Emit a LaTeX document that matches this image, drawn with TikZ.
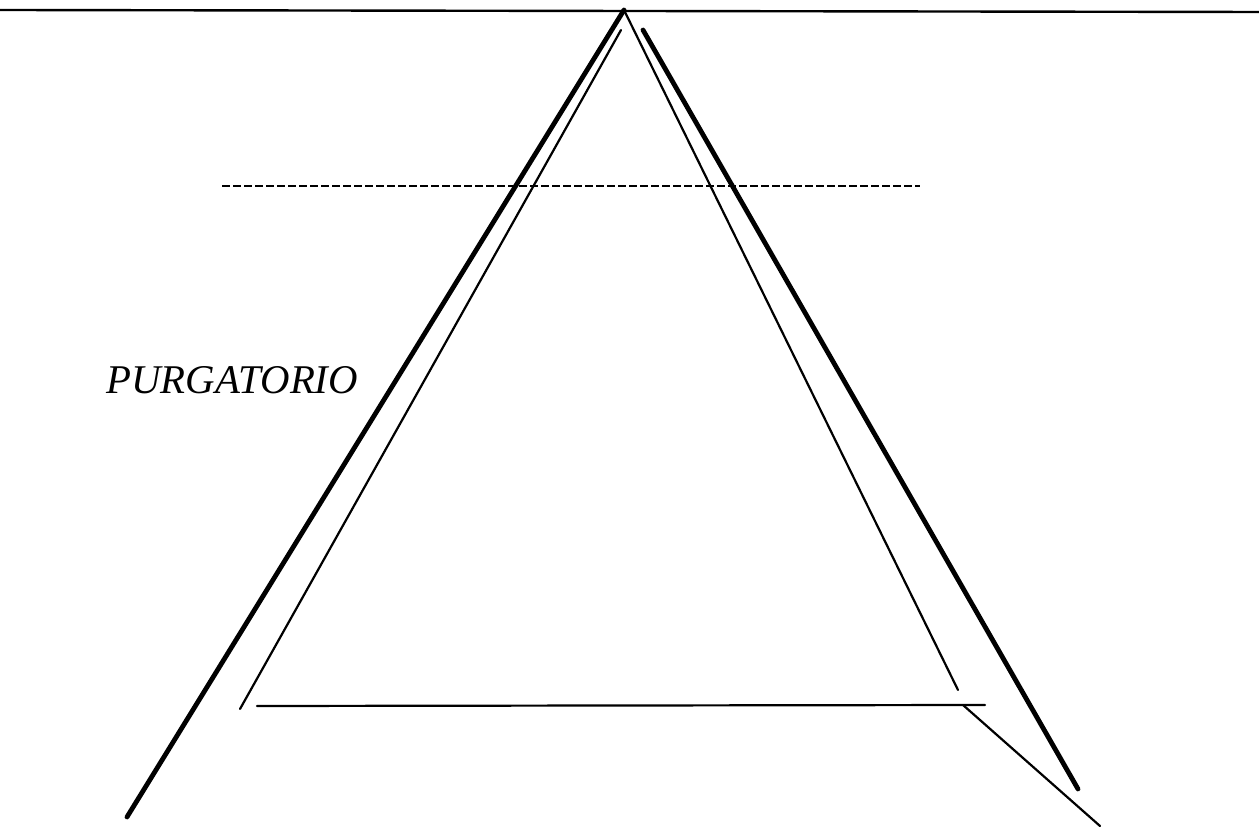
\documentclass[tikz,border=0pt]{standalone}
\usepackage{fontspec}
\setmainfont{Liberation Serif}
\usetikzlibrary{positioning}

\begin{document}
\begin{tikzpicture}[x=0.5pt, y=-0.5pt, >=stealth, every node/.style={font=\fontsize{20.4}{24}\selectfont\itshape}]
\tikzstyle{wall}=[line width=2.4pt, line cap=round]
\tikzstyle{edge}=[line width=1.1pt, line cap=round]
\tikzstyle{level}=[line width=1pt, dash pattern=on 4pt off 1.5pt]
\useasboundingbox (0,0) rectangle (1259,833);
% points of the mountain
\coordinate (skyL) at (0,10);
\coordinate (skyR) at (1259,12);
\coordinate (apex) at (624,10);
\coordinate (outerL) at (127,817);
\coordinate (innerLtop) at (621,30);
\coordinate (innerL) at (240,709);
\coordinate (innerR) at (958,690);
\coordinate (outerRtop) at (643,30);
\coordinate (outerR) at (1078,789);
\coordinate (levelL) at (222,186);
\coordinate (levelR) at (920,186);
\coordinate (baseL) at (257,706);
\coordinate (baseR) at (985,705);
\coordinate (baseK) at (963,705);
\coordinate (tail) at (1100,826);
\node[anchor=base west, inner sep=0pt] (purg) at (106,394) {PURGATORIO};
\draw[edge, line width=1.2pt] (skyL) -- (skyR);
\draw[wall] (outerL) -- (apex);
\draw[edge] (innerL) -- (innerLtop);
\draw[edge] (apex) -- (innerR);
\draw[wall] (outerRtop) -- (outerR);
\draw[level] (levelL) -- (levelR);
\draw[edge] (baseL) -- (baseR);
\draw[edge] (baseK) -- (tail);
\end{tikzpicture}
\end{document}
